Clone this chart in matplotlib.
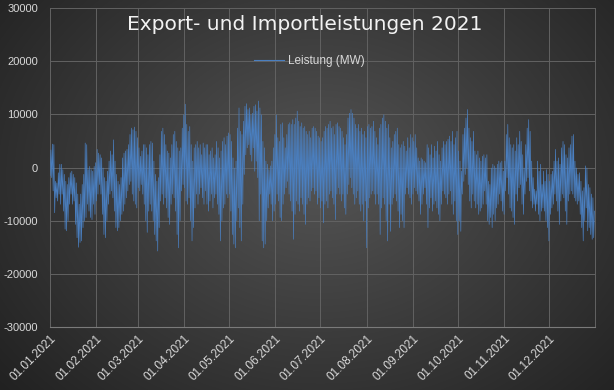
import numpy as np
import pandas as pd
import matplotlib
matplotlib.use("Agg")
import matplotlib.pyplot as plt
import matplotlib.dates as mdates

# ---------------- data (MW): daily max / daily min ----------------
daily_max = [
    3300, 4400, 4300, -2600, -2900, -1000, 600, 600, -400, -1300, -2600, -3200, -1900, -1000, -700, -1300,
    -1900, -2900, -5000, -6900, -5000, -3200, -1300, 4600, 4300, -400, 200, -400, -700, 200, 900,
    3400, 2700, 2400, 1800, -100, -1900, -2600, -700, 1200, 3100, 2400, 5200, 1200, -1300, -2600, -3200,
    -1900, 1800, 2700, 3100, 3400, 4300, 6200, 7400, 7100, 7600, 6800, 5600,
    3700, 2100, 3100, 4300, 4300, 3700, 2400, 4300, 4900, 4600, 1200, -1300, -2600, -1900, 2400, 6800,
    7400, 6200, 4300, 3100, 2700, 1800, 4300, 6200, 6800, 4900, 3700, 3100, 3700, 7400, 9900,
    11900, 8100, 6800, 7700, 4300, 1200, 3700, 4300, 4900, 3700, 4300, 2400, 4600, 3700, 4300,
    4300, 2400, 3100, 3700, 1800, 2400, 4900, 3700, 1800, 3100, 4900, 5600, 4300, 5900, 6500,
    6200, 4900, 1800, -100, 1200, 7400, 11200, 6800, 6200, 8700, 11500, 12000, 10900, 11200, 9900,
    10200, 11500, 11800, 10600, 12500, 11200, 9900, 4900, 3700, 1200, 600, -400, 300, 1200, 3700, 6200,
    9900, 5600, 4900, 8100, 8400, 5600, 3700, 6200, 8100, 8400, 8100, 9000, 8100, 9300, 10600,
    8700, 7700, 8400, 7400, 7700, 6800, 6200, 6800, 5600, 7400, 7700, 7400, 6800, 5900, 5600,
    4900, 5600, 6800, 7700, 7400, 8100, 8700, 7400, 7700, 6200, 8100, 8400, 7700, 7400, 6800, 5600,
    4300, 6200, 9300, 10200, 10900, 10200, 9300, 8100, 7400, 8100, 6800, 7400, 6200, 6800, 5600, 7700,
    8100, 7400, 7700, 8700, 6800, 5600, 4300, 7400, 8100, 9300, 9900, 8700, 7400, 8100, 5600, 3700,
    4900, 6200, 6800, 7400, 4300, 3700, 4300, 4900, 4000, 3100, 5600, 3700, 6200, 5600,
    4900, 6200, 3700, 1800, 1200, 1800, 1500, 1200, 900, 4300, 3700, 2400, 4300, 1800, 4000, 3100,
    4900, 2400, 1200, 3700, 4900, 4300, 4900, 5300, 5900, 4900, 6800, 4300, 5600, 6800,
    3100, 1200, -700, 6200, 7400, 9300, 10900, 7400, 5600, 4900, 6800, 3100, 2400, 3100, 1800, 1200,
    2100, 2400, 1800, 2400, -2600, -3200, -100, 600, 300, -100, 600, 1200, 900, 1200, -700,
    1200, 6200, 8100, 5600, 4300, 3700, 4300, 3100, 5600, 4300, 6800, 4900, 2400, -100, 4300, 7400,
    9000, 6800, 1200, -1900, -4100, -4400, 1200, -700, 600, -3200, -700, -2600, -400, -1300,
    -2600, -1300, -700, 1200, 3400, 1200, 1800, 600, 3700, 4900, 4300, 2400, 1800, 3700, 4300, 5900,
    6200, 1200, -100, -1300, -1000, -2600, -4400, -3800, 300, -100, -3200, -3800, -5000, -5700, -8200,
]
daily_min = [
    -1500, -1900, -4400, -8500, -5700, -6300, -5000, -6900, -5000, -8200, -11600, -11900, -10000, -6900,
    -5000, -6900, -6300, -10700, -13200, -15000, -14100, -13800, -11300, -10000, -9400, -6900, -8200,
    -9400, -9800, -6900, -8800,
    -6300, -5000, -3200, -5000, -8800, -12600, -13200, -10000, -6900, -5000, -4400, -5700, -8200, -11300,
    -11900, -11300, -10000, -8800, -8200, -6900, -5700, -4400, -3200, -2600, -5000, -6300, -6900, -7600,
    -3800, -4400, -3200, -5000, -6900, -10000, -12200, -8200, -6900, -8200, -10000, -12600, -13800,
    -15700, -11300, -6300, -5000, -6900, -5700, -7600, -9400, -10700, -6900, -5000, -5700, -8200,
    -12600, -15100, -10000, -4400, -3200,
    -3800, -6300, -6900, -5700, -10000, -13800, -11300, -7600, -5000, -6900, -5000, -3800, -5700,
    -6900, -4400, -6900, -8200, -6300, -5000, -7600, -5700, -5000, -6900, -8800, -13800, -10000,
    -7600, -6900, -5000, -5700,
    -5000, -8200, -12600, -14400, -15100, -10000, -7600, -11300, -13800, -6900, -1300, 2400, 3700,
    4300, 2400, 1200, 3700, -700, 1200, -1900, -10000, -5000, -13800, -15100, -14400, -10000, -7600,
    -5000, -6900, -10000, -8200,
    -6900, -5000, -6300, -9400, -10000, -6900, -5000, -3800, -2600, -5000, -6300, -8200, -13500,
    -8800, -6300, -6900, -8200, -5700, -6900, -8800, -10700, -6900, -5700, -6300, -4400, -3800,
    -5000, -4400, -6900, -5700,
    -7600, -6300, -10400, -6900, -6300, -7600, -5000, -4400, -5700, -6900, -9800, -5000, -3800, -5000,
    -6300, -5000, -7600, -8800, -5000, -3200, -1900, -3800, -5000, -6900, -5700, -4400, -6900, -8200,
    -6900, -10000, -6300, -15100, -7600,
    -5700, -5000, -4400, -5000, -6900, -5000, -6900, -12600, -7600, -5700, -6900, -10000, -13800,
    -6900, -12000, -6900, -5700, -5000, -6300, -8200, -11300, -8800, -10000, -11300, -5000, -3800,
    -5000, -5700, -6900,
    -5000, -3800, -4400, -5000, -6300, -8800, -6900, -5000, -3800, -6900, -11300, -7600, -5700,
    -8200, -6900, -6300, -7600, -8800, -10000, -6900, -4400, -5000, -5700, -6900, -5000, -4400,
    -6900, -8800, -6300, -10000,
    -12600, -10000, -12000, -5000, -2600, -1300, -100, -3200, -6300, -7600, -5000, -6300, -7600,
    -6900, -8800, -8200, -7600, -6900, -4400, -6900, -10000, -10700, -9400, -11300, -8800, -10000,
    -7600, -6900, -5000, -6300, -8200,
    -8800, -4400, -1900, -5000, -7600, -8200, -9400, -10700, -5000, -6300, -3800, -3200, -6900,
    -8800, -5000, -2600, -1900, -4400, -6300, -7600, -6900, -8200, -6900, -8800, -10000, -8200,
    -7600, -8200, -10000, -11300,
    -13800, -8800, -7600, -6900, -5000, -6300, -8200, -10700, -6300, -5000, -5700, -8200, -10700,
    -6300, -5000, -4400, -5000, -5700, -6300, -6900, -6300, -8800, -11300, -13800, -10000, -7600,
    -11900, -11300, -12600, -13500, -13200,
]
year_start = "2021-01-01"
month_ticks = pd.date_range(year_start, periods=12, freq="MS")
month_labels_fmt = "%d.%m.%Y"
series_name = "Leistung (MW)"
title_text = "Export- und Importleistungen 2021"
y_ticks = [-30000, -20000, -10000, 0, 10000, 20000, 30000]

# ---------------- build the plotted series ----------------
days = pd.date_range(year_start, periods=len(daily_max), freq="D")
t_lo = days + pd.Timedelta(hours=3)
t_hi = days + pd.Timedelta(hours=14)
times = np.empty(2 * len(days), dtype="datetime64[ns]")
vals = np.empty(2 * len(days))
times[0::2] = t_lo.values
times[1::2] = t_hi.values
vals[0::2] = daily_min
vals[1::2] = daily_max

# ---------------- figure ----------------
W, H = 614, 390
fig = plt.figure(figsize=(W / 100, H / 100), dpi=100)

bg = fig.add_axes([0, 0, 1, 1], zorder=0)
yy, xx = np.mgrid[0:H, 0:W]
r = np.sqrt(((xx - 320) / 420.0) ** 2 + ((yy - 175) / 330.0) ** 2)
g = np.clip(1 - r, 0, 1)
shade = 0.13 + 0.20 * g
bg.imshow(np.dstack([shade, shade, shade]), aspect="auto", extent=[0, 1, 0, 1])
bg.set_axis_off()

ax = fig.add_axes([50 / W, 1 - 327 / H, 545 / W, 319 / H], zorder=1)
ax.set_facecolor("none")

ax.plot(times, vals, color="#4a7fc0", lw=0.5, label=series_name, zorder=3)

ax.set_ylim(-30000, 30000)
ax.set_yticks(y_ticks)
ax.set_yticklabels([str(v) for v in y_ticks])
ax.set_xlim(pd.Timestamp("2021-01-01"), pd.Timestamp("2022-01-01"))
ax.set_xticks(month_ticks)
ax.set_xticklabels([d.strftime(month_labels_fmt) for d in month_ticks])

gridc = "#626262"
ax.grid(True, color=gridc, lw=0.7)
ax.set_axisbelow(True)
for s in ["left", "right", "top"]:
    ax.spines[s].set_color(gridc)
    ax.spines[s].set_linewidth(0.7)
ax.spines["top"].set_visible(False)
ax.spines["bottom"].set_color("#7a7a7a")
ax.spines["bottom"].set_linewidth(0.8)

tick_font = "Liberation Sans"
ax.tick_params(axis="both", length=0, colors="#d9d9d9", labelsize=8)
ax.tick_params(axis="y", pad=8.5)
ax.tick_params(axis="x", pad=4)
for lab in ax.get_yticklabels():
    lab.set_fontfamily(tick_font)
for lab in ax.get_xticklabels():
    lab.set_fontfamily(tick_font)
    lab.set_fontsize(8.5)
    lab.set_rotation(45)
    lab.set_ha("right")
    lab.set_va("top")
    lab.set_rotation_mode("anchor")

fig.text(305 / W, 1 - 25 / H, title_text, ha="center", va="center",
         fontsize=14.5, color="#f2f2f2", family="DejaVu Sans")

leg = fig.legend(loc="center", bbox_to_anchor=(309 / W, 1 - 61 / H), frameon=False,
                 handlelength=2.6, handletextpad=0.3,
                 prop={"family": tick_font, "size": 8.5})
for txt in leg.get_texts():
    txt.set_color("#d9d9d9")
for h in leg.get_lines():
    h.set_linewidth(0.8)

fig.savefig("out.png", dpi=100)
